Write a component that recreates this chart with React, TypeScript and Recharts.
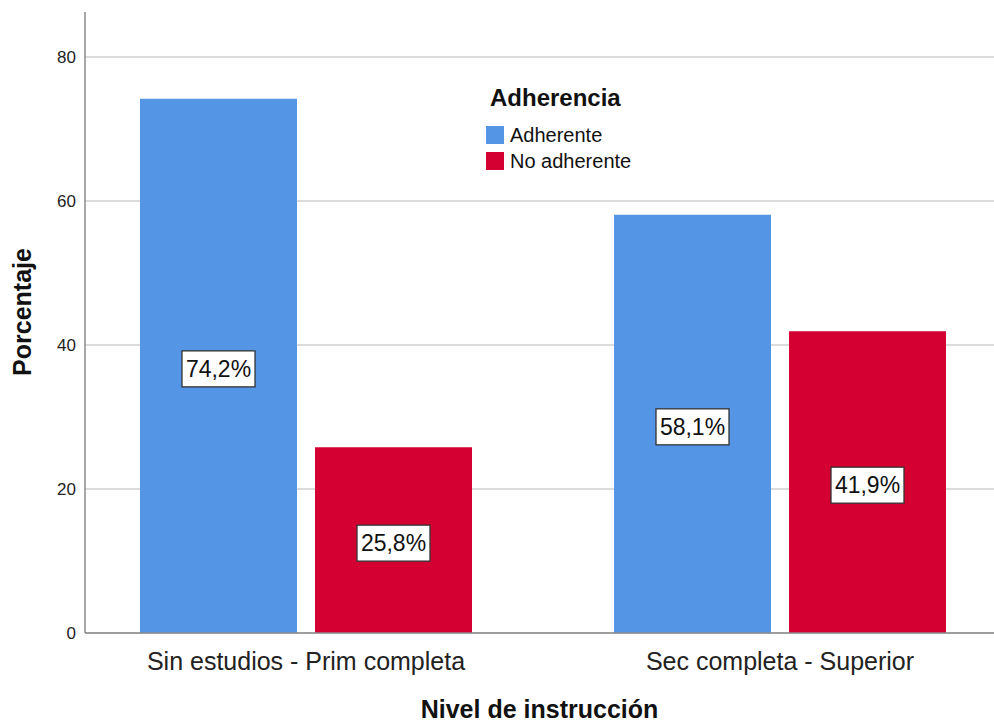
import { BarChart, Bar, XAxis, YAxis, CartesianGrid, Legend, LabelList } from "recharts";

const categories = ["Sin estudios - Prim completa", "Sec completa - Superior"];
const adherente = [74.2, 58.1];
const noAdherente = [25.8, 41.9];
const yTicks = [0, 20, 40, 60, 80];

const BLUE = "#5595e5";
const RED = "#d50032";
const FONT = "'Liberation Sans', Arial, sans-serif";

const data = categories.map((name, i) => ({
  name,
  adherente: adherente[i],
  noAdherente: noAdherente[i],
}));

function fmt(v: number) {
  return v.toFixed(1).replace(".", ",") + "%";
}

function BoxLabel(props: any) {
  const { x, y, width, height, value } = props;
  const cx = x + width / 2;
  const cy = y + height / 2 + 3;
  const w = 73;
  const h = 36;
  return (
    <g>
      <rect x={cx - w / 2} y={cy - h / 2} width={w} height={h} fill="#fff" stroke="#333" strokeWidth={1.3} />
      <text x={cx} y={cy + 8} textAnchor="middle" fontSize={23} fill="#111" fontFamily={FONT}>
        {fmt(value)}
      </text>
    </g>
  );
}

function XTick(props: any) {
  const { x, y, payload } = props;
  return (
    <text x={x} y={y + 35} textAnchor="middle" fontSize={25} fill="#222" fontFamily={FONT}>
      {payload.value}
    </text>
  );
}

function YTick(props: any) {
  const { x, y, payload } = props;
  return (
    <text x={x} y={y + 6} textAnchor="end" fontSize={17} fill="#222" fontFamily={FONT}>
      {payload.value}
    </text>
  );
}

function LegendBox() {
  const items = [
    { label: "Adherente", color: BLUE },
    { label: "No adherente", color: RED },
  ];
  return (
    <div style={{ fontFamily: FONT, color: "#111" }}>
      <div style={{ fontWeight: "bold", fontSize: 24, marginLeft: 4, lineHeight: "28px" }}>Adherencia</div>
      <div style={{ marginTop: 10 }}>
        {items.map((it) => (
          <div key={it.label} style={{ display: "flex", alignItems: "center", height: 26, fontSize: 20 }}>
            <span style={{ display: "inline-block", width: 18, height: 18, background: it.color, marginRight: 6 }} />
            {it.label}
          </div>
        ))}
      </div>
    </div>
  );
}

export default function App() {
  return (
    <div style={{ position: "absolute", left: 0, top: 0, width: 994, height: 722, background: "#fff" }}>
      <BarChart
        width={994}
        height={722}
        data={data}
        margin={{ top: 12, right: 0, left: 45, bottom: 0 }}
        barCategoryGap={71}
        barGap={18}
      >
        <CartesianGrid vertical={false} stroke="#cfcfcf" strokeWidth={1.5} syncWithTicks />
        <XAxis
          dataKey="name"
          height={89}
          padding={{ left: -16, right: -23 }}
          tick={<XTick />}
          tickLine={false}
          tickSize={0}
          stroke="#8a8a8a"
          strokeWidth={1.5}
          label={{
            value: "Nivel de instrucción",
            position: "insideBottom",
            offset: 4,
            fontSize: 25,
            fontWeight: "bold",
            fill: "#111",
            fontFamily: FONT,
          }}
        />
        <YAxis
          width={40}
          domain={[0, 86.25]}
          ticks={yTicks}
          interval={0}
          tick={<YTick />}
          tickLine={false}
          tickSize={0}
          tickMargin={9}
          stroke="#8a8a8a"
          strokeWidth={1.5}
          allowDataOverflow
        />
        <Legend
          layout="vertical"
          align="center"
          verticalAlign="middle"
          content={<LegendBox />}
          wrapperStyle={{ left: 486, top: 84, width: 200 }}
        />
        <Bar dataKey="adherente" name="Adherente" fill={BLUE} isAnimationActive={false}>
          <LabelList dataKey="adherente" content={<BoxLabel />} />
        </Bar>
        <Bar dataKey="noAdherente" name="No adherente" fill={RED} isAnimationActive={false}>
          <LabelList dataKey="noAdherente" content={<BoxLabel />} />
        </Bar>
      </BarChart>
      <div
        style={{
          position: "absolute",
          left: 22,
          top: 312,
          transform: "translate(-50%, -50%) rotate(-90deg)",
          fontFamily: FONT,
          fontWeight: "bold",
          fontSize: 25,
          color: "#111",
          whiteSpace: "nowrap",
        }}
      >
        Porcentaje
      </div>
    </div>
  );
}
